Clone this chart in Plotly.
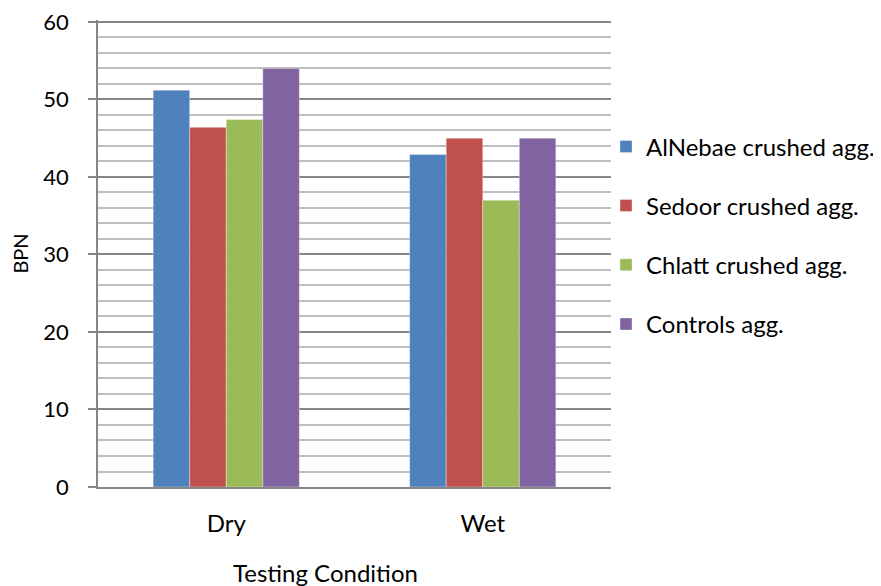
import plotly.graph_objects as go

categories = ["Dry", "Wet"]
series_names = ["AlNebae crushed agg.", "Sedoor crushed agg.", "Chlatt crushed agg.", "Controls agg."]
alnebae = [51.2, 42.9]
sedoor = [46.4, 45.0]
chlatt = [47.4, 37.0]
controls = [54.0, 45.0]
colors = ["#4F81BD", "#C0504D", "#9BBB59", "#8064A2"]
y_ticks = [0, 10, 20, 30, 40, 50, 60]

FONT = "Lato"
fig = go.Figure()
for i, (name, vals) in enumerate(zip(series_names, [alnebae, sedoor, chlatt, controls])):
    fig.add_trace(go.Bar(
        x=categories, y=vals, name=name, legendgroup=f"g{i}",
        marker=dict(color=colors[i], line=dict(color="rgba(255,255,255,0.35)", width=1)),
    ))

# page body has an 8px offset; compensate in margins
OFF = 8
W, H = 881, 586
PL, PR, PT, PB = 98, 611, 20, 487  # plot area in screen pixels
L = PL - OFF
T = PT - OFF
R = W - (PR - OFF)
B = H - (PB - OFF)
PW = PR - PL
PH = PB - PT

fig.update_layout(
    width=W, height=H,
    margin=dict(l=L, r=R, t=T, b=B, autoexpand=False),
    paper_bgcolor="white", plot_bgcolor="white",
    barmode="group", bargap=0.43, bargroupgap=0,
    font=dict(family=FONT, size=24, color="#000000"),
    legend=dict(
        x=(606 - PL) / PW, xanchor="left", y=(PB - 235.3) / PH, yanchor="middle",
        font=dict(family=FONT, size=24, color="#000000"),
        traceorder="grouped", tracegroupgap=25,
        bgcolor="rgba(0,0,0,0)",
    ),
    xaxis=dict(
        showline=True, linecolor="#868686", linewidth=1.5,
        ticks="", showgrid=False, ticklabelstandoff=14,
        tickfont=dict(family=FONT, size=24),
    ),
    yaxis=dict(
        range=[0, 60.25], tickvals=y_ticks, ticktext=[str(v) for v in y_ticks],
        ticklabeloverflow="allow",
        showline=True, linecolor="#868686", linewidth=1.5,
        ticks="outside", ticklen=8, tickcolor="#868686", tickwidth=1.5,
        ticklabelstandoff=15,
        showgrid=True, gridcolor="#868686", gridwidth=1.5,
        minor=dict(dtick=2, showgrid=True, gridcolor="#BEBEBE", gridwidth=1.5),
        tickfont=dict(family=FONT, size=22),
        title=dict(text="BPN", standoff=11, font=dict(family=FONT, size=20)),
        zeroline=False,
    ),
    annotations=[dict(
        text="Testing Condition", xref="paper", yref="paper",
        x=(325 - PL) / PW, y=-(572 - PB) / PH,
        xanchor="center", yanchor="middle", showarrow=False,
        font=dict(family=FONT, size=24, color="#000000"),
    )],
)
fig.write_html("out.html")
